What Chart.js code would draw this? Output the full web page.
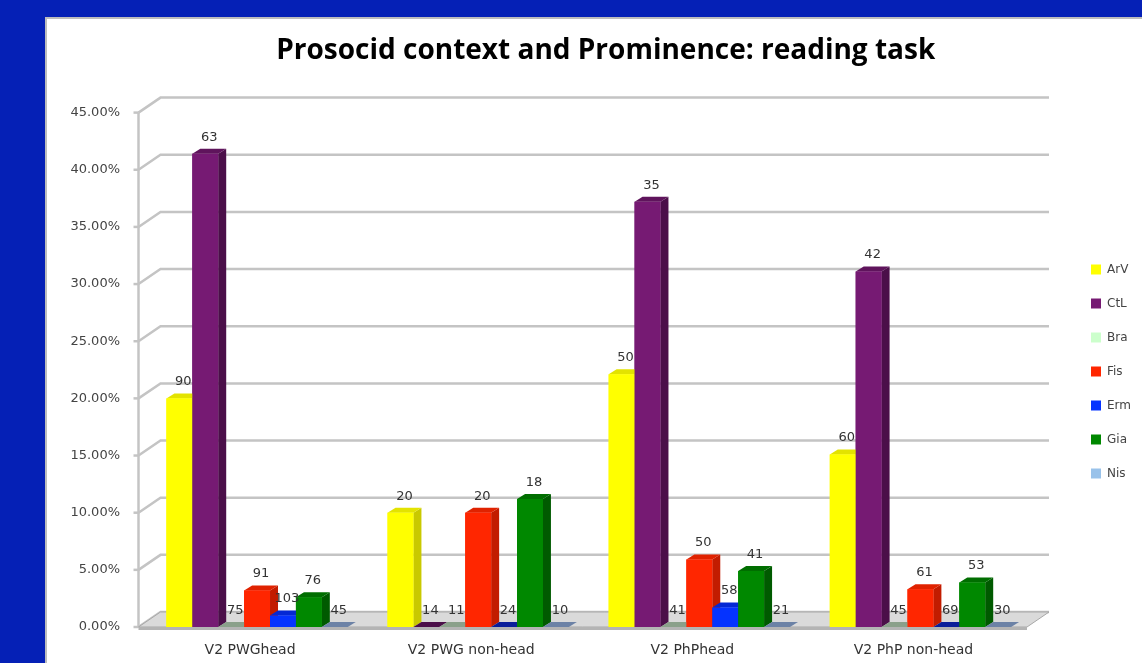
<!DOCTYPE html>
<html>
<head>
<meta charset="utf-8">
<script src="https://cdn.jsdelivr.net/npm/chart.js@4.4.1/dist/chart.umd.min.js"></script>
<style>
  html, body { margin: 0; padding: 0; width: 1142px; height: 663px; overflow: hidden; background: #0520b6; }
  #panel { position: absolute; left: 45px; top: 17px; width: 1097px; height: 646px; background: #fff;
           border-left: 2px solid #bdbdbd; border-top: 2px solid #bdbdbd; box-sizing: border-box; }
  #wrap { position: absolute; left: 0; top: 0; width: 1142px; height: 663px; }
</style>
</head>
<body>
<div id="panel"></div>
<div id="wrap"><canvas id="chart" width="1142" height="663"></canvas></div>
<script>
// categories and series
const categories = ['V2 PWGhead', 'V2 PWG non-head', 'V2 PhPhead', 'V2 PhP non-head'];
const seriesNames = ['ArV', 'CtL', 'Bra', 'Fis', 'Erm', 'Gia', 'Nis'];

// percentages (bar heights)
const arvPct = [20.0, 10.0, 22.1, 15.1];
const ctlPct = [41.4, 0, 37.2, 31.1];
const braPct = [0, 0, 0, 0];
const fisPct = [3.2, 10.0, 5.9, 3.3];
const ermPct = [1.0, 0, 1.7, 0];
const giaPct = [2.6, 11.2, 4.9, 3.9];
const nisPct = [0, 0, 0, 0];

// counts shown above the bars
const arvN = [90, 20, 50, 60];
const ctlN = [63, 14, 35, 42];
const braN = [75, 11, 41, 45];
const fisN = [91, 20, 50, 61];
const ermN = [103, 24, 58, 69];
const giaN = [76, 18, 41, 53];
const nisN = [45, 10, 21, 30];

const yTicks = [0, 5, 10, 15, 20, 25, 30, 35, 40, 45];

const pctData = [arvPct, ctlPct, braPct, fisPct, ermPct, giaPct, nisPct];
const countData = [arvN, ctlN, braN, fisN, ermN, giaN, nisN];

// front / side / top / flat colours per series
const faces = [
  { front: '#ffff00', side: '#c9c900', top: '#e3e300', flat: '#c9c900' },
  { front: '#761a73', side: '#4b0f49', top: '#5f145c', flat: '#4b0f49' },
  { front: '#ccffcc', side: '#8fa58f', top: '#8fa58f', flat: '#8aa08a' },
  { front: '#ff2600', side: '#c21c00', top: '#e02200', flat: '#c21c00' },
  { front: '#0533ff', side: '#0320b0', top: '#0428d4', flat: '#0a1e9a' },
  { front: '#008800', side: '#005a00', top: '#006e00', flat: '#005a00' },
  { front: '#99c2ea', side: '#6c82a6', top: '#6c82a6', flat: '#6c82a6' }
];

const wallDX = 22, wallDY = 15;   // back wall offset
const barDX = 8, barDY = 5;       // bar depth

const grid3d = {
  id: 'grid3d',
  beforeDatasetsDraw(chart) {
    const { ctx, chartArea: a, scales: { y } } = chart;
    const ax = a.left - 8;
    const backRight = a.right + 18;
    const y0 = y.getPixelForValue(0);
    ctx.save();
    ctx.strokeStyle = '#c4c4c4';
    ctx.lineWidth = 2.5;
    yTicks.forEach(v => {
      const yy = y.getPixelForValue(v);
      ctx.beginPath();
      ctx.moveTo(ax, yy);
      ctx.lineTo(ax + wallDX, yy - wallDY);
      ctx.lineTo(backRight, yy - wallDY);
      ctx.stroke();
      ctx.beginPath();
      ctx.moveTo(ax - 5, yy);
      ctx.lineTo(ax, yy);
      ctx.stroke();
    });
    ctx.beginPath();
    ctx.moveTo(ax, y.getPixelForValue(45));
    ctx.lineTo(ax, y0);
    ctx.stroke();
    // floor
    const frontRight = backRight - wallDX;
    ctx.beginPath();
    ctx.moveTo(ax, y0);
    ctx.lineTo(ax + wallDX, y0 - wallDY);
    ctx.lineTo(backRight, y0 - wallDY);
    ctx.lineTo(frontRight, y0);
    ctx.closePath();
    ctx.fillStyle = '#dadada';
    ctx.fill();
    ctx.strokeStyle = '#a8a8a8';
    ctx.lineWidth = 1;
    ctx.stroke();
    ctx.fillStyle = '#b4b4b4';
    ctx.fillRect(ax, y0, frontRight - ax, 3);
    ctx.restore();
  }
};

function poly(ctx, pts, color) {
  ctx.beginPath();
  ctx.moveTo(pts[0][0], pts[0][1]);
  for (let k = 1; k < pts.length; k++) ctx.lineTo(pts[k][0], pts[k][1]);
  ctx.closePath();
  ctx.fillStyle = color;
  ctx.fill();
}

const bars3d = {
  id: 'bars3d',
  afterDatasetsDraw(chart) {
    const ctx = chart.ctx;
    ctx.save();
    const tops = [];
    for (let i = 0; i < chart.data.labels.length; i++) {
      chart.data.datasets.forEach((ds, d) => {
        const el = chart.getDatasetMeta(d).data[i];
        const { x, y, base, width } = el.getProps(['x', 'y', 'base', 'width'], true);
        const l = x - width / 2, r = x + width / 2;
        const f = faces[d];
        if (Math.abs(base - y) < 0.5) {
          poly(ctx, [[l, base], [l + barDX, base - barDY], [r + barDX, base - barDY], [r, base]], f.flat);
        } else {
          poly(ctx, [[r, y], [r + barDX, y - barDY], [r + barDX, base - barDY], [r, base]], f.side);
          poly(ctx, [[l, y], [l + barDX, y - barDY], [r + barDX, y - barDY], [r, y]], f.top);
          ctx.fillStyle = f.front;
          ctx.fillRect(l, y, width, base - y);
        }
        tops.push({ x: x + barDX / 2, y: y - barDY - 5, text: String(ds.counts[i]) });
      });
    }
    ctx.font = '13px "DejaVu Sans"';
    ctx.fillStyle = '#333';
    ctx.textAlign = 'center';
    ctx.textBaseline = 'bottom';
    tops.forEach(t => ctx.fillText(t.text, t.x, t.y));
    ctx.restore();
  }
};

// move legend and title to where the original slide has them
const placeBoxes = {
  id: 'placeBoxes',
  afterLayout(chart) {
    const lg = chart.legend;
    const dx = 1091 - (lg.left + lg.options.labels.padding);
    lg.left += dx;
    lg.right += dx;
    lg.top += 40;
    lg.bottom += 40;
    const tb = chart.titleBlock;
    tb.left += 31;
    tb.right += 31;
  }
};

new Chart('chart', {
  type: 'bar',
  data: {
    labels: categories,
    datasets: seriesNames.map((name, d) => ({
      label: name,
      data: pctData[d],
      counts: countData[d],
      backgroundColor: faces[d].front,
      borderWidth: 0,
      categoryPercentage: 0.82,
      barPercentage: 1.0
    }))
  },
  options: {
    responsive: false,
    animation: false,
    layout: { padding: { left: 46.5, right: 39, top: 0, bottom: 0 } },
    plugins: {
      title: {
        display: true,
        text: 'Prosocid context and Prominence: reading task',
        color: '#000',
        font: { family: '"Open Sans"', size: 28, weight: 'bold' },
        padding: { top: 34, bottom: 45 }
      },
      legend: {
        position: 'right',
        labels: {
          boxWidth: 10, boxHeight: 10, padding: 22,
          color: '#444',
          font: { family: '"DejaVu Sans"', size: 12 }
        }
      },
      tooltip: { enabled: false }
    },
    scales: {
      x: {
        grid: { display: false, drawTicks: false },
        border: { display: false },
        ticks: { color: '#333', padding: 14.6, labelOffset: -7, font: { family: '"DejaVu Sans"', size: 14 } },
        afterFit(s) { s.height = 36; }
      },
      y: {
        min: 0, max: 45,
        grid: { display: false, drawTicks: false },
        border: { display: false },
        ticks: {
          stepSize: 5, padding: 26.5, color: '#444',
          font: { family: '"DejaVu Sans"', size: 13 },
          callback: v => v.toFixed(2) + '%'
        },
        afterFit(s) { s.width = 100; }
      }
    }
  },
  plugins: [grid3d, bars3d, placeBoxes]
});
</script>
</body>
</html>
